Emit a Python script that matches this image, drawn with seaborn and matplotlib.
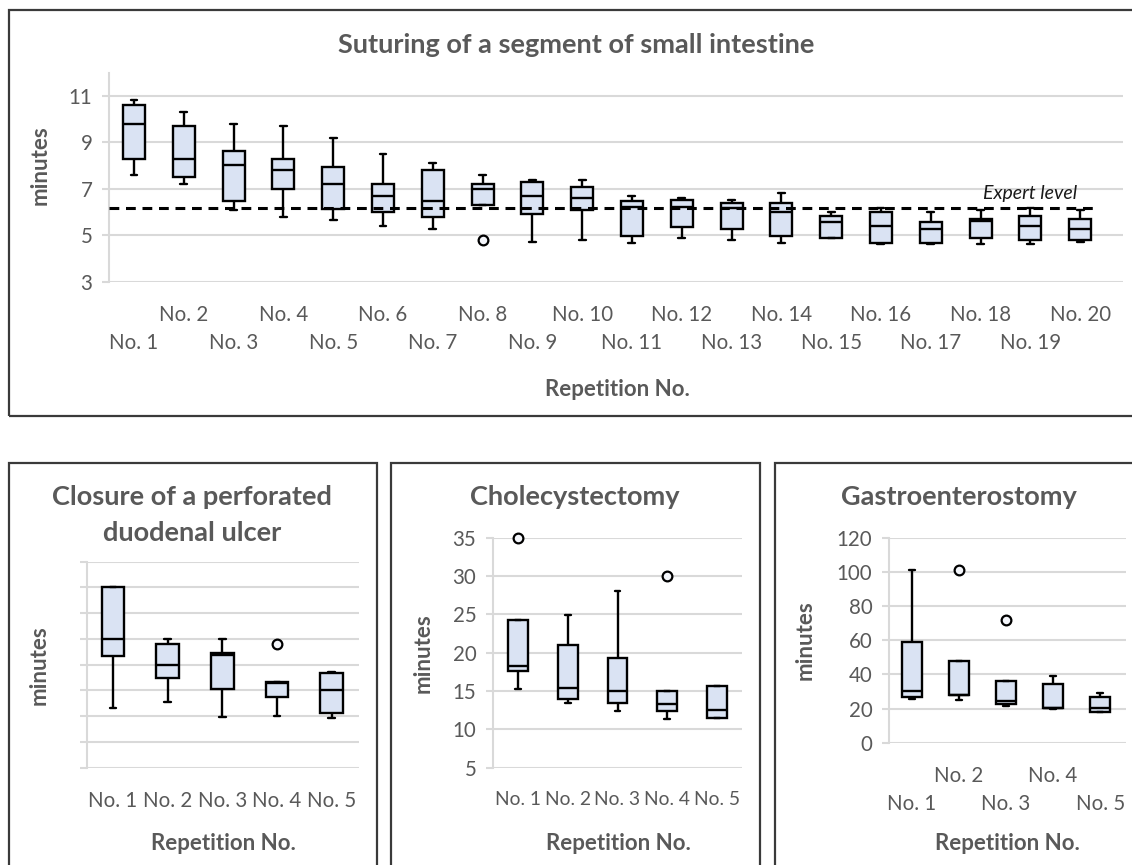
import matplotlib
matplotlib.use("Agg")
import matplotlib.pyplot as plt
from matplotlib.patches import Rectangle
import pandas as pd
import seaborn as sns

# ---------------------------------------------------------------------------
# Data: five-number summaries (min, Q1, median, Q3, max) plus outliers
# ---------------------------------------------------------------------------
sut_reps = ["No. %d" % i for i in range(1, 21)]
sut_low = [7.57, 7.19, 6.10, 5.80, 5.67, 5.38, 5.27, 6.30, 4.69, 4.78,
           4.68, 4.86, 4.78, 4.68, 4.86, 4.61, 4.61, 4.61, 4.61, 4.69]
sut_q1 = [8.29, 7.49, 6.48, 6.99, 6.11, 5.98, 5.78, 6.30, 5.90, 6.10,
          4.98, 5.37, 5.27, 4.98, 4.86, 4.68, 4.68, 4.86, 4.78, 4.78]
sut_med = [9.80, 8.30, 8.02, 7.79, 7.19, 6.68, 6.48, 6.99, 6.68, 6.60,
           6.20, 6.21, 6.18, 6.01, 5.58, 5.41, 5.27, 5.60, 5.41, 5.27]
sut_q3 = [10.61, 9.70, 8.62, 8.30, 7.92, 7.19, 7.79, 7.19, 7.29, 7.09,
          6.48, 6.50, 6.40, 6.40, 5.81, 5.98, 5.58, 5.68, 5.81, 5.68]
sut_high = [10.81, 10.31, 9.80, 9.70, 9.19, 8.49, 8.10, 7.57, 7.39, 7.39,
            6.68, 6.60, 6.50, 6.80, 6.00, 6.18, 6.00, 6.10, 6.18, 6.10]
sut_out_rep = ["No. 8"]
sut_out_val = [4.79]
expert_level = 6.15

short_reps = ["No. 1", "No. 2", "No. 3", "No. 4", "No. 5"]

ulcer_low = [11.6, 12.8, 9.8, 10.0, 9.6]
ulcer_q1 = [21.6, 17.5, 15.3, 13.7, 10.7]
ulcer_med = [25.0, 20.0, 21.9, 16.5, 15.0]
ulcer_q3 = [35.1, 24.1, 22.2, 16.7, 18.3]
ulcer_high = [35.1, 25.0, 25.0, 16.7, 18.6]
ulcer_out_rep = ["No. 4"]
ulcer_out_val = [24.1]

chole_low = [15.3, 13.4, 12.4, 11.4, 11.5]
chole_q1 = [17.6, 14.0, 13.4, 12.4, 11.5]
chole_med = [18.3, 15.4, 15.0, 13.3, 12.5]
chole_q3 = [24.3, 21.0, 19.3, 15.0, 15.7]
chole_high = [24.3, 24.9, 28.0, 15.0, 15.7]
chole_out_rep = ["No. 1", "No. 4"]
chole_out_val = [35.0, 30.0]

gastro_low = [25.4, 24.8, 21.7, 20.0, 18.1]
gastro_q1 = [26.7, 27.9, 22.4, 20.3, 18.1]
gastro_med = [30.4, 28.0, 24.4, 20.5, 20.3]
gastro_q3 = [59.1, 47.8, 36.1, 34.1, 26.7]
gastro_high = [101.0, 47.8, 36.1, 39.0, 29.1]
gastro_out_rep = ["No. 2", "No. 3"]
gastro_out_val = [100.9, 71.8]

# ---------------------------------------------------------------------------
# Style
# ---------------------------------------------------------------------------
sns.set_theme(style="white")
plt.rcParams["font.family"] = ["Lato", "DejaVu Sans"]

TEXT = "#595959"
GRID = "#d9d9d9"
BOX_FILL = "#dae3f3"
FRAME = "#3a3a3a"
TICK_PT = 14.8
TITLE_PT = 19.5
LABEL_PT = 16
X_PAD = 17            # points between the axis and the upper label row
ROW_GAP = 20          # extra points for the lower label row

W, H = 1132, 865
fig = plt.figure(figsize=(W / 100, H / 100), dpi=100)
fig.patch.set_facecolor("white")


def px_axes(left, top, right, bottom):
    """Axes rectangle given in pixel coordinates from the top-left corner."""
    return fig.add_axes([left / W, 1 - bottom / H, (right - left) / W, (bottom - top) / H])


def px_text(x, y, s, **kw):
    fig.text(x / W, 1 - y / H, s, color=TEXT, ha="center", va="center", **kw)


def frame(left, top, right, bottom):
    fig.add_artist(Rectangle((left / W, 1 - bottom / H), (right - left) / W, (bottom - top) / H,
                             transform=fig.transFigure, fill=False, edgecolor=FRAME,
                             linewidth=1.6, clip_on=False))


def long_table(cats, low, q1, med, q3, high):
    rows = []
    for cat, vals in zip(cats, zip(low, q1, med, q3, high)):
        for v in vals:
            rows.append((cat, v))
    return pd.DataFrame(rows, columns=["rep", "minutes"])


def draw_boxes(ax, cats, low, q1, med, q3, high, out_rep, out_val, width, capw):
    df = long_table(cats, low, q1, med, q3, high)
    sns.boxplot(data=df, x="rep", y="minutes", order=cats, whis=(0, 100), width=width,
                color=BOX_FILL, saturation=1, linecolor="black", linewidth=1.7,
                capwidths=capw, ax=ax, zorder=3)
    if out_val:
        n_before = len(ax.collections)
        sns.stripplot(x=out_rep, y=out_val, order=cats, jitter=False, ax=ax, marker="o",
                      size=7, color="#f4f6fb", edgecolor="black", linewidth=1.6, zorder=6)
        for coll in ax.collections[n_before:]:
            coll.set_clip_on(False)


def style_axes(ax, yticks, ylim, xlim, show_ylabels=True, xlabel_pt=TICK_PT):
    ax.set_ylim(*ylim)
    ax.set_xlim(*xlim)
    ax.set_yticks(yticks)
    ax.grid(axis="y", color=GRID, linewidth=1.5)
    ax.grid(axis="x", visible=False)
    ax.set_axisbelow(True)
    for side in ("top", "right", "bottom"):
        ax.spines[side].set_visible(False)
    ax.spines["left"].set_color(GRID)
    ax.spines["left"].set_linewidth(1.5)
    ax.tick_params(axis="y", length=5, width=1.5, color=GRID, pad=7,
                   labelsize=TICK_PT, labelcolor=TEXT, left=True)
    ax.tick_params(axis="x", length=0, labelsize=xlabel_pt, labelcolor=TEXT, pad=X_PAD)
    if not show_ylabels:
        ax.set_yticklabels([])
    ax.set_xlabel("")
    ax.set_ylabel("")
    ax.set_facecolor("white")


def set_categories(ax, labels, staggered):
    ax.set_xticks(range(len(labels)))
    ax.set_xticklabels(labels)
    if staggered:
        # odd-numbered repetitions sit on a second, lower row
        for i, tick in enumerate(ax.xaxis.get_major_ticks()):
            if i % 2 == 0:
                tick.set_pad(X_PAD + ROW_GAP)


# ---------------------------------------------------------------------------
# Top panel: suturing
# ---------------------------------------------------------------------------
frame(9, 10, 1145, 416)
ax_top = px_axes(109, 72.5, 1123, 281.7)
draw_boxes(ax_top, sut_reps, sut_low, sut_q1, sut_med, sut_q3, sut_high,
           sut_out_rep, sut_out_val, width=0.44, capw=0.14)
style_axes(ax_top, [3, 5, 7, 9, 11], (3, 12), (-0.502, 19.86))
set_categories(ax_top, sut_reps, staggered=True)
ax_top.axhline(expert_level, xmin=0, xmax=0.976, color="black", linewidth=2.2,
               linestyle=(0, (3.2, 2.2)), zorder=7)
ax_top.text(18.0, expert_level + 0.42, "Expert level", ha="center", va="baseline",
            style="italic", fontsize=14, color="#1a1a1a")
px_text(576, 45, "Suturing of a segment of small intestine", fontsize=TITLE_PT,
        fontweight="bold")
px_text(40, 165, "minutes", fontsize=LABEL_PT, fontweight="bold", rotation=90)
px_text(617, 390, "Repetition No.", fontsize=LABEL_PT, fontweight="bold")

# ---------------------------------------------------------------------------
# Bottom left: closure of a perforated duodenal ulcer
# ---------------------------------------------------------------------------
frame(9, 463, 377, 900)
ax1 = px_axes(86.7, 561.7, 359, 767.7)
draw_boxes(ax1, short_reps, ulcer_low, ulcer_q1, ulcer_med, ulcer_q3, ulcer_high,
           ulcer_out_rep, ulcer_out_val, width=0.41, capw=0.12)
style_axes(ax1, list(range(0, 45, 5)), (0, 40), (-0.48, 4.5), show_ylabels=False)
set_categories(ax1, short_reps, staggered=False)
px_text(192, 497, "Closure of a perforated", fontsize=TITLE_PT, fontweight="bold")
px_text(192, 533, "duodenal ulcer", fontsize=TITLE_PT, fontweight="bold")
px_text(39, 665, "minutes", fontsize=LABEL_PT, fontweight="bold", rotation=90)
px_text(223, 843, "Repetition No.", fontsize=LABEL_PT, fontweight="bold")

# ---------------------------------------------------------------------------
# Bottom middle: cholecystectomy
# ---------------------------------------------------------------------------
frame(391, 463, 760, 900)
ax2 = px_axes(493, 537.7, 742, 767.7)
draw_boxes(ax2, short_reps, chole_low, chole_q1, chole_med, chole_q3, chole_high,
           chole_out_rep, chole_out_val, width=0.40, capw=0.12)
style_axes(ax2, list(range(5, 40, 5)), (5, 35), (-0.5, 4.5), xlabel_pt=13.9)
set_categories(ax2, short_reps, staggered=False)
px_text(575, 497, "Cholecystectomy", fontsize=TITLE_PT, fontweight="bold")
px_text(423, 653, "minutes", fontsize=LABEL_PT, fontweight="bold", rotation=90)
px_text(618, 843, "Repetition No.", fontsize=LABEL_PT, fontweight="bold")

# ---------------------------------------------------------------------------
# Bottom right: gastroenterostomy
# ---------------------------------------------------------------------------
frame(775, 463, 1145, 900)
ax3 = px_axes(889, 537.7, 1126, 742.7)
draw_boxes(ax3, short_reps, gastro_low, gastro_q1, gastro_med, gastro_q3, gastro_high,
           gastro_out_rep, gastro_out_val, width=0.43, capw=0.12)
style_axes(ax3, list(range(0, 140, 20)), (0, 120), (-0.49, 4.55))
set_categories(ax3, short_reps, staggered=True)
px_text(959, 497, "Gastroenterostomy", fontsize=TITLE_PT, fontweight="bold")
px_text(805, 640, "minutes", fontsize=LABEL_PT, fontweight="bold", rotation=90)
px_text(1007, 843, "Repetition No.", fontsize=LABEL_PT, fontweight="bold")

fig.savefig("out.png", dpi=100, facecolor="white")
